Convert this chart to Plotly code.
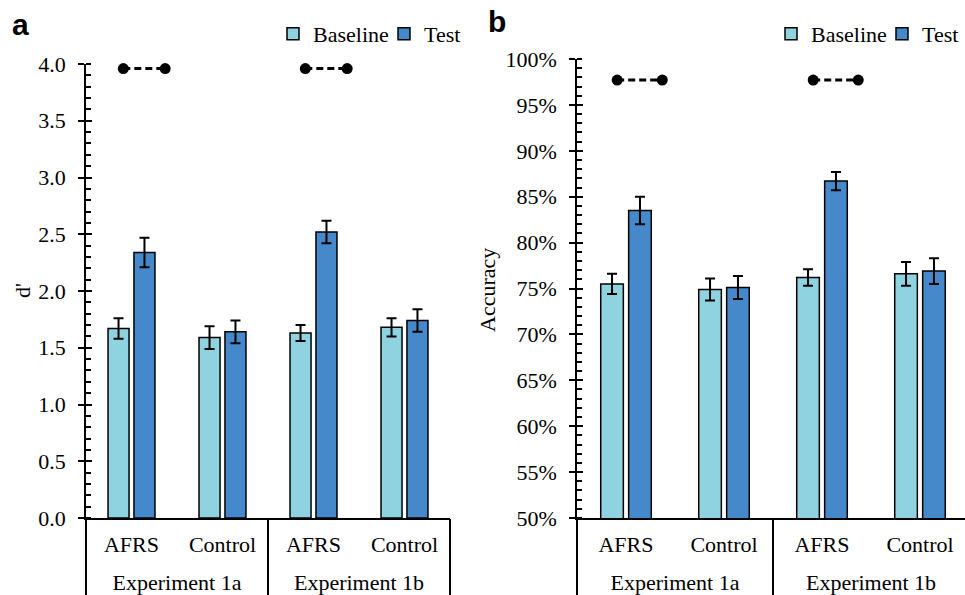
import plotly.graph_objects as go

# ---- data -------------------------------------------------------------
experiments = ["Experiment 1a", "Experiment 1b"]
conditions = ["AFRS", "Control", "AFRS", "Control"]
conditions_per_experiment = 2

dprime_baseline = [1.67, 1.59, 1.63, 1.68]
dprime_baseline_err = [0.09, 0.10, 0.07, 0.08]
dprime_test = [2.34, 1.64, 2.52, 1.74]
dprime_test_err = [0.13, 0.10, 0.10, 0.10]

acc_baseline = [75.5, 74.9, 76.2, 76.6]
acc_baseline_err = [1.1, 1.2, 0.9, 1.3]
acc_test = [83.5, 75.1, 86.7, 76.9]
acc_test_err = [1.5, 1.25, 1.0, 1.4]

# significance brackets: category index of each marked group, span offsets, height
sig_groups = [0, 2]
sig_span = [-0.09, 0.37]
dprime_sig_level = 3.96
acc_sig_level = 97.7

dprime_ticks = [0.0, 0.5, 1.0, 1.5, 2.0, 2.5, 3.0, 3.5, 4.0]
acc_ticks = [50, 55, 60, 65, 70, 75, 80, 85, 90, 95, 100]

# ---- category positions on the shared linear x scale --------------------
n = len(conditions)
cat_pos = list(range(n))
k = conditions_per_experiment
exp_pos = [i * k + (k - 1) / 2 for i in range(len(experiments))]
divider_pos = [i * k - 0.5 for i in range(len(experiments) + 1)]

# ---- style ------------------------------------------------------------
BASE_COLOR = "#8fd3e0"
TEST_COLOR = "#4589ca"
SERIF = "Liberation Serif, Times New Roman, serif"
SANS = "Liberation Sans, Arial, sans-serif"
FS = 22

W, H = 965, 595


def sig_xy(level):
    xs, ys = [], []
    for g in sig_groups:
        xs += [g + sig_span[0], g + sig_span[1], None]
        ys += [level, level, None]
    return xs, ys


def bar(name, y, err, color, xa, ya, legend, lw):
    return go.Bar(
        name=name, x=cat_pos, y=y, xaxis=xa, yaxis=ya, legend=legend, legendwidth=lw,
        marker=dict(color=color, line=dict(color="black", width=1.5)),
        error_y=dict(type="data", array=err, visible=True,
                     color="black", thickness=2, width=5),
    )


def sig_trace(level, xa, ya):
    sx, sy = sig_xy(level)
    return go.Scatter(x=sx, y=sy, xaxis=xa, yaxis=ya, mode="lines+markers",
                      showlegend=False, cliponaxis=False, hoverinfo="skip",
                      line=dict(color="black", width=3, dash="7px,4px"),
                      marker=dict(color="black", size=11))


def axis_holder(xa, ya):
    # empty trace that makes an overlay axis pair part of the figure
    return go.Scatter(x=[None], y=[None], xaxis=xa, yaxis=ya, mode="lines",
                      showlegend=False, hoverinfo="skip")


fig = go.Figure()

# panel a: d'
fig.add_trace(bar("Baseline", dprime_baseline, dprime_baseline_err, BASE_COLOR, "x", "y", "legend", 66))
fig.add_trace(bar("Test", dprime_test, dprime_test_err, TEST_COLOR, "x", "y", "legend", 38))
fig.add_trace(sig_trace(dprime_sig_level, "x3", "y"))
fig.add_trace(axis_holder("x5", "y"))
fig.add_trace(axis_holder("x", "y3"))

# panel b: accuracy
fig.add_trace(bar("Baseline", acc_baseline, acc_baseline_err, BASE_COLOR, "x2", "y2", "legend2", 66))
fig.add_trace(bar("Test", acc_test, acc_test_err, TEST_COLOR, "x2", "y2", "legend2", 38))
fig.add_trace(sig_trace(acc_sig_level, "x4", "y2"))
fig.add_trace(axis_holder("x6", "y2"))
fig.add_trace(axis_holder("x2", "y4"))

# layout geometry (pixels -> paper fractions)
left_x = [86 / W, 450 / W]
left_y = [(H - 518) / H, (H - 64) / H]
right_x = [577 / W, 1.0]
right_y = [(H - 518) / H, (H - 59) / H]
left_range = [-0.5, n - 0.5]
right_range = [-0.5, -0.5 + (W - 577) / 98]

label_font = dict(family=SERIF, size=FS, color="black")

# condition labels + axis line
cond_axis = dict(
    type="linear", showline=True, linecolor="black", linewidth=1.5,
    showgrid=False, zeroline=False, automargin=False, ticks="",
    tickmode="array", tickvals=cat_pos, ticktext=conditions,
    tickfont=label_font, ticklabelstandoff=6,
)
# experiment labels (second level)
exp_axis = dict(
    type="linear", showline=False, showgrid=False, zeroline=False, automargin=False,
    ticks="", tickmode="array", tickvals=exp_pos, ticktext=experiments,
    tickfont=label_font, ticklabelstandoff=49,
)
# vertical dividers between experiments
div_axis = dict(
    type="linear", showline=False, showgrid=False, zeroline=False, automargin=False,
    showticklabels=False, tickmode="array", tickvals=divider_pos,
    ticks="outside", ticklen=80, tickwidth=1.5, tickcolor="black",
)

val_axis = dict(
    showline=True, linecolor="black", linewidth=1.5, showgrid=False, zeroline=False,
    ticks="outside", ticklen=6, tickwidth=1.5, tickcolor="black", automargin=False,
    tickfont=label_font, ticklabelstandoff=8,
)
inner_major = dict(showline=False, showgrid=False, zeroline=False, showticklabels=False,
                   automargin=False,
                   ticks="inside", ticklen=6, tickwidth=1.5, tickcolor="black")

legend_style = dict(orientation="h", xanchor="right", yanchor="middle",
                    font=dict(family=SERIF, size=FS, color="black"),
                    bgcolor="rgba(0,0,0,0)", itemwidth=30, borderwidth=0)

fig.update_layout(
    width=W, height=H,
    margin=dict(l=0, r=0, t=0, b=0),
    paper_bgcolor="white", plot_bgcolor="rgba(0,0,0,0)",
    barmode="group", bargap=0.43, bargroupgap=0.19,
    font=dict(family=SERIF, size=FS, color="black"),
    # panel a axes
    xaxis=dict(cond_axis, domain=left_x, anchor="y", range=left_range),
    xaxis3=dict(exp_axis, domain=left_x, anchor="y", overlaying="x", range=left_range),
    xaxis5=dict(div_axis, domain=left_x, anchor="y", overlaying="x", range=left_range),
    yaxis=dict(val_axis, domain=left_y, anchor="x", range=[0, 4],
               tickmode="array", tickvals=dprime_ticks,
               ticktext=[f"{v:.1f}" for v in dprime_ticks],
               minor=dict(dtick=0.1, ticks="inside", ticklen=5, tickwidth=1.5, tickcolor="black")),
    yaxis3=dict(inner_major, domain=left_y, anchor="x", overlaying="y", range=[0, 4],
                tickmode="array", tickvals=dprime_ticks),
    # panel b axes
    xaxis2=dict(cond_axis, domain=right_x, anchor="y2", range=right_range),
    xaxis4=dict(exp_axis, domain=right_x, anchor="y2", overlaying="x2", range=right_range),
    xaxis6=dict(div_axis, domain=right_x, anchor="y2", overlaying="x2", range=right_range),
    yaxis2=dict(val_axis, domain=right_y, anchor="x2", range=[50, 100],
                tickmode="array", tickvals=acc_ticks,
                ticktext=[f"{v}%" for v in acc_ticks],
                minor=dict(dtick=1, ticks="inside", ticklen=5, tickwidth=1.5, tickcolor="black")),
    yaxis4=dict(inner_major, domain=right_y, anchor="x2", overlaying="y2", range=[50, 100],
                tickmode="array", tickvals=acc_ticks),
    legend=dict(legend_style, x=467 / W, y=1 - 34 / H),
    legend2=dict(legend_style, x=1.0, y=1 - 34 / H),
    annotations=[
        dict(text="<b>a</b>", x=20 / W, y=1 - 25 / H, xref="paper", yref="paper", showarrow=False,
             font=dict(family=SANS, size=30, color="black"),
             xanchor="center", yanchor="middle"),
        dict(text="<b>b</b>", x=497 / W, y=1 - 22 / H, xref="paper", yref="paper", showarrow=False,
             font=dict(family=SANS, size=30, color="black"),
             xanchor="center", yanchor="middle"),
        dict(text="d'", x=22 / W, y=1 - 291 / H, xref="paper", yref="paper", showarrow=False,
             textangle=-90, font=dict(family=SERIF, size=FS), xanchor="center", yanchor="middle"),
        dict(text="Accuracy", x=487 / W, y=1 - 290 / H, xref="paper", yref="paper", showarrow=False,
             textangle=-90, font=dict(family=SERIF, size=FS), xanchor="center", yanchor="middle"),
    ],
)

fig.write_html("out.html")
